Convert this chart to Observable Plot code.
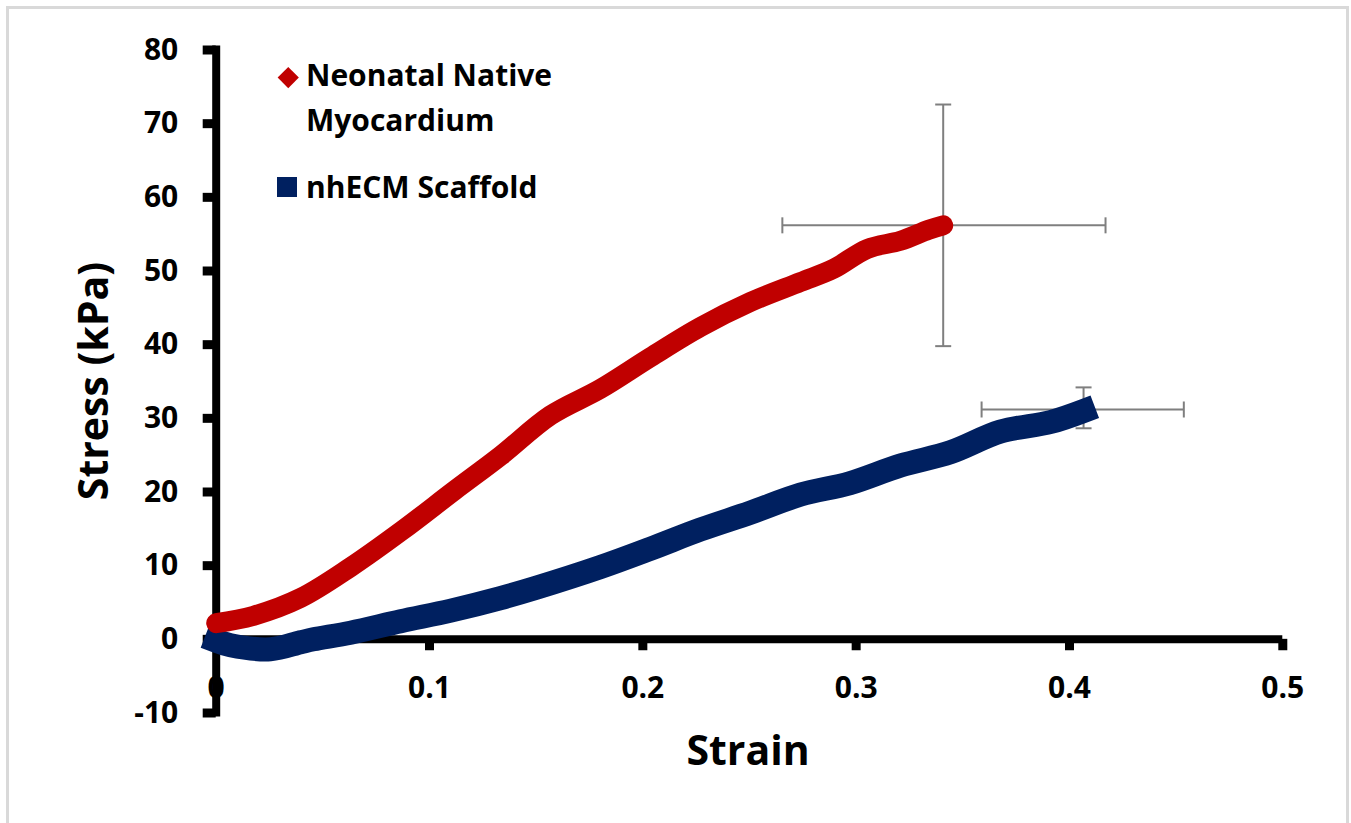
<!DOCTYPE html>
<html>
<head>
<meta charset="utf-8">
<script src="https://cdn.jsdelivr.net/npm/d3@7"></script>
<script src="https://cdn.jsdelivr.net/npm/@observablehq/plot@0.6"></script>
<style>
  html, body { margin: 0; padding: 0; background: #fff; }
  #wrap { position: relative; width: 1351px; height: 823px; overflow: hidden; font-family: "Open Sans", Lato, sans-serif; font-weight: bold; color: #000; }
  #frame { position: absolute; left: 6px; top: 6px; width: 1343px; height: 830px; border: 3px solid #d9d9d9; box-sizing: border-box; pointer-events: none; }
  .lg { position: absolute; font-size: 30px; line-height: 1; white-space: nowrap; }
  .title { position: absolute; font-size: 41px; white-space: nowrap; line-height: 1; }
</style>
</head>
<body>
<div id="wrap">
  <div id="chart"></div>
  <div id="frame"></div>
</div>
<script>
// ---- data ----
const seriesNames = ["Neonatal Native Myocardium", "nhECM Scaffold"];
const redStrain = [0.000, 0.0175, 0.0395, 0.063, 0.0873, 0.1117, 0.1333, 0.1567, 0.1801, 0.2036, 0.2270, 0.2505, 0.2739, 0.2894, 0.3052, 0.3208, 0.3340, 0.3408];
const redStress = [2.2, 3.2, 5.6, 9.8, 14.8, 20.2, 24.9, 30.4, 34.0, 38.3, 42.4, 45.8, 48.5, 50.3, 53.0, 54.1, 55.6, 56.2];
const blueStrain = [0.000, 0.0067, 0.0255, 0.0395, 0.0456, 0.063, 0.0865, 0.110, 0.1333, 0.150, 0.180, 0.2036, 0.227, 0.2505, 0.274, 0.297, 0.3208, 0.3443, 0.3677, 0.3912, 0.4066];
const blueStress = [-0.2, -0.8, -1.35, -0.4, 0.0, 0.9, 2.45, 3.9, 5.6, 7.0, 9.8, 12.3, 14.9, 17.2, 19.65, 21.2, 23.6, 25.4, 28.2, 29.5, 31.0];
// error bars
const errX = [0.3408, 0.4066];
const errY = [56.2, 31.2];
const errXLow = [0.2654, 0.3588];
const errXHigh = [0.4169, 0.4536];
const errYLow = [39.8, 28.65];
const errYHigh = [72.6, 34.2];
const xTicks = [0, 0.1, 0.2, 0.3, 0.4, 0.5];
const xTickLabels = ["0", "0.1", "0.2", "0.3", "0.4", "0.5"];
const yTicks = [-10, 0, 10, 20, 30, 40, 50, 60, 70, 80];
const colors = ["#c00000", "#002060"];

const red = redStrain.map((x, i) => ({x, y: redStress[i]}));
const blue = blueStrain.map((x, i) => ({x, y: blueStress[i]}));
const err = errX.map((x, i) => ({x, y: errY[i], x1: errXLow[i], x2: errXHigh[i], y1: errYLow[i], y2: errYHigh[i]}));
const xt = xTicks.map((x, i) => ({x, label: xTickLabels[i]}));

const vCap = {draw(ctx, size) { const r = Math.sqrt(size / Math.PI); ctx.moveTo(0, -r); ctx.lineTo(0, r); }};
const hCap = {draw(ctx, size) { const r = Math.sqrt(size / Math.PI); ctx.moveTo(-r, 0); ctx.lineTo(r, 0); }};

const chart = Plot.plot({
  width: 1351,
  height: 823,
  marginLeft: 215.7,
  marginRight: 68.7,
  marginTop: 49.5,
  marginBottom: 110.5,
  style: {fontFamily: "'Open Sans', Lato, sans-serif", fontWeight: "bold", background: "transparent", overflow: "visible"},
  x: {domain: [0, 0.5], axis: null},
  y: {domain: [-10, 80], axis: null},
  marks: [
    Plot.axisY({ticks: yTicks, tickSize: 13, tickPadding: 25, strokeWidth: 9, fontSize: 30, fill: "#000", stroke: "#000", label: null, tickFormat: d => String(d)}),
    Plot.ruleX([0], {y1: -10.55, y2: 80.55, stroke: "#000", strokeWidth: 8}),
    Plot.ruleY([0], {x1: 0, x2: 0.5, stroke: "#000", strokeWidth: 8}),
    Plot.ruleX(xt, {x: "x", y1: 0, y2: -1.55, stroke: "#000", strokeWidth: 9}),
    Plot.text(xt, {x: "x", y: 0, text: "label", dy: 49, fontSize: 30, fill: "#000"}),
    Plot.link(err, {x1: "x1", x2: "x2", y1: "y", y2: "y", stroke: "#7f7f7f", strokeWidth: 2}),
    Plot.link(err, {x1: "x", x2: "x", y1: "y1", y2: "y2", stroke: "#7f7f7f", strokeWidth: 2}),
    Plot.dot(err, {x: "x1", y: "y", symbol: vCap, r: 8, stroke: "#7f7f7f", strokeWidth: 2, fill: "none"}),
    Plot.dot(err, {x: "x2", y: "y", symbol: vCap, r: 8, stroke: "#7f7f7f", strokeWidth: 2, fill: "none"}),
    Plot.dot(err, {x: "x", y: "y1", symbol: hCap, r: 8, stroke: "#7f7f7f", strokeWidth: 2, fill: "none"}),
    Plot.dot(err, {x: "x", y: "y2", symbol: hCap, r: 8, stroke: "#7f7f7f", strokeWidth: 2, fill: "none"}),
    Plot.line(blue, {x: "x", y: "y", stroke: colors[1], strokeWidth: 24, strokeLinecap: "square", strokeLinejoin: "round", curve: "catmull-rom"}),
    Plot.line(red, {x: "x", y: "y", stroke: colors[0], strokeWidth: 20, strokeLinecap: "round", strokeLinejoin: "round", curve: "catmull-rom"})
  ]
});
document.getElementById("chart").appendChild(chart);

const wrap = document.getElementById("wrap");
function add(html, css, cls) {
  const d = document.createElement("div");
  if (cls) d.className = cls;
  d.innerHTML = html;
  Object.assign(d.style, css);
  wrap.appendChild(d);
  return d;
}
add("", {position: "absolute", left: "281px", top: "69.5px", width: "14.5px", height: "14.5px", background: colors[0], transform: "rotate(45deg)"});
add("Neonatal Native", {left: "306px", top: "60px"}, "lg");
add("Myocardium", {left: "306px", top: "105px"}, "lg");
add("", {position: "absolute", left: "277px", top: "177px", width: "20px", height: "20px", background: colors[1]});
add("nhECM Scaffold", {left: "306px", top: "171.5px"}, "lg");
add("Strain", {left: "748px", top: "729px", transform: "translateX(-50%)"}, "title");
add("Stress (kPa)", {left: "92px", top: "381px", transform: "translate(-50%, -50%) rotate(-90deg)"}, "title");
</script>
</body>
</html>
